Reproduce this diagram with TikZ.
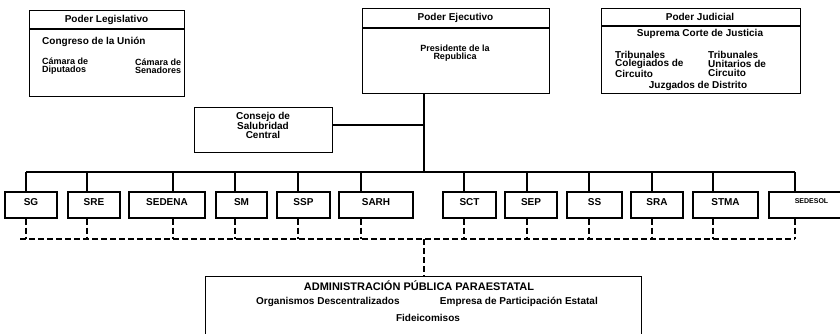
\documentclass[tikz,border=0pt]{standalone}
\usepackage{fontspec}
\setmainfont{Liberation Sans}
\newcommand\fsz{\fontsize{10}{8.7}\selectfont\bfseries}
\newcommand\fsm{\fontsize{9}{8.5}\selectfont\bfseries}
\newcommand\frow{\fontsize{10}{10}\selectfont\bfseries}
\newcommand\fsmall{\fontsize{7}{7}\selectfont\bfseries}
\newcommand\ftitle{\fontsize{11}{11}\selectfont\bfseries}
\begin{document}
\begin{tikzpicture}[x=1pt,y=-1pt,
  box/.style={draw, line width=1.4pt, inner sep=0pt, anchor=north west},
  txt/.style={inner sep=0pt, font=\fsz},
  rowbox/.style={draw, line width=1.4pt, minimum height=26pt, inner sep=0pt,
    text height=7pt, text depth=7pt, font=\frow},
  ln/.style={line width=1.3pt},
  dl/.style={line width=1.3pt, dash pattern=on 6pt off 3pt}]
\useasboundingbox (0,0) rectangle (840,334);

% Poder Legislativo
\node[box, minimum width=155pt, minimum height=86pt] (leg) at (29,10) {};
\draw[ln] (leg.west |- 0,29) -- (leg.east |- 0,29);
\node[txt] (legt) at (106.5,19.5) {Poder Legislativo};
\node[txt, anchor=west] (cong) at (42,42) {Congreso de la Unión};
\node[txt, font=\fsm, anchor=west, align=left] (dip) at (42,66) {Cámara de\\Diputados};
\node[txt, font=\fsm, anchor=west, align=left] (sen) at (135,66) {Cámara de\\Senadores};

% Poder Ejecutivo
\node[box, minimum width=187pt, minimum height=85pt] (eje) at (362,8) {};
\draw[ln] (eje.west |- 0,28) -- (eje.east |- 0,28);
\node[txt] (ejet) at (455.5,18) {Poder Ejecutivo};
\node[txt, font=\fsm, align=center] (pres) at (455,53) {Presidente de la\\Republica};

% Poder Judicial
\node[box, minimum width=199pt, minimum height=85pt] (jud) at (601,8) {};
\draw[ln] (jud.west |- 0,26) -- (jud.east |- 0,26);
\node[txt] (judt) at (700,17) {Poder Judicial};
\node[txt] (scj) at (700,34) {Suprema Corte de Justicia};
\node[txt, anchor=west, align=left] (tcc) at (615,64) {Tribunales\\Colegiados de\\Circuito};
\node[txt, anchor=west, align=left] (tuc) at (708,64) {Tribunales\\Unitarios de\\Circuito};
\node[txt] (jd) at (698,86) {Juzgados de Distrito};

% Consejo
\node[box, minimum width=138pt, minimum height=45pt] (csc) at (194,107) {};
\node[txt, align=center] (csct) at (263,125) {Consejo de\\Salubridad\\Central};

% trunk
\coordinate (bt) at (424,172);
\coordinate (cj) at (424,125);
\draw[ln] (bt |- eje.south) -- (bt);
\draw[ln] (csc.east |- cj) -- (cj);

% row of boxes
\node[rowbox, minimum width=52pt] (n1) at (31,205) {SG};
\node[rowbox, minimum width=52pt] (n2) at (94,205) {SRE};
\node[rowbox, minimum width=76pt] (n3) at (167,205) {SEDENA};
\node[rowbox, minimum width=51pt] (n4) at (241.5,205) {SM};
\node[rowbox, minimum width=53pt] (n5) at (303.5,205) {SSP};
\node[rowbox, minimum width=74pt] (n6) at (376,205) {SARH};
\node[rowbox, minimum width=53pt] (n7) at (469.5,205) {SCT};
\node[rowbox, minimum width=52pt] (n8) at (531,205) {SEP};
\node[rowbox, minimum width=55pt] (n9) at (594.5,205) {SS};
\node[rowbox, minimum width=52pt] (n10) at (657,205) {SRA};
\node[rowbox, minimum width=65pt] (n11) at (725.5,205) {STMA};
\node[rowbox, minimum width=73pt, font=\fsmall, text height=5pt, text depth=9pt] (n12) at (805.5,205) {\hspace*{12pt}SEDESOL};

\foreach \i/\xx in {1/26,2/87,3/173,4/235,5/298,6/361,7/464,8/527,9/589,10/652,11/713,12/795}{
  \coordinate (b\i) at (\xx,172);
  \coordinate (d\i) at (\xx,239);
}
\draw[ln] (b1) -- (b12);
\foreach \i in {1,...,12}{
  \draw[ln] (b\i) -- (b\i |- n\i.north);
  \draw[dl] (b\i |- n\i.south) -- (d\i);
}
\coordinate (ds) at (20,239);
\draw[dl] (ds) -- (d12);

% bottom box
\node[box, minimum width=436pt, minimum height=66pt] (apx) at (205,276) {};
\coordinate (dm) at (424,239);
\draw[dl] (dm) -- (dm |- apx.north);
\node[txt, font=\ftitle] (apxt) at (419,286) {ADMINISTRACIÓN PÚBLICA PARAESTATAL};
\node[txt, anchor=west] (od) at (256,302) {Organismos Descentralizados};
\node[txt, anchor=east] (epe) at (598,302) {Empresa de Participación Estatal};
\node[txt] (fid) at (428,318) {Fideicomisos};
\end{tikzpicture}
\end{document}
